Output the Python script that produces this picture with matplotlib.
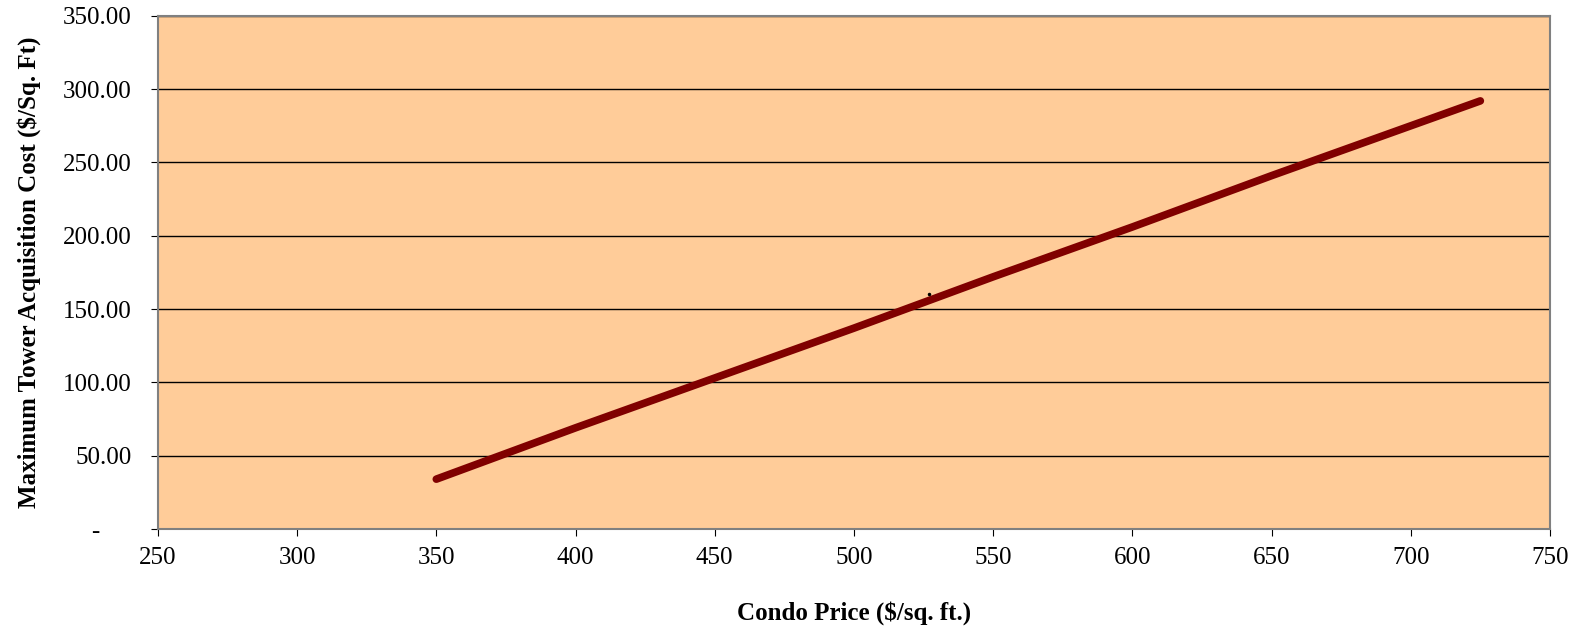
import matplotlib.pyplot as plt
from matplotlib.ticker import FuncFormatter

# Datos
precio_condo = [350, 400, 450, 500, 550, 600, 650, 700, 725]
costo_max = [34, 69, 103, 137, 172, 206, 241, 275, 292]
punto_suelto = (527, 160)

x_ticks = [250, 300, 350, 400, 450, 500, 550, 600, 650, 700, 750]
y_ticks = [0, 50, 100, 150, 200, 250, 300, 350]

plt.rcParams['font.family'] = ['Liberation Serif', 'DejaVu Serif']

fig = plt.figure(figsize=(15.79, 6.34), dpi=100)
ax = fig.add_axes([0.1, 0.1656, 0.8816, 0.8094])
ax.set_facecolor('#FFCC99')

ax.plot(precio_condo, costo_max, color='#800000', linewidth=5.5,
        solid_capstyle='round', zorder=3)
ax.plot([punto_suelto[0]], [punto_suelto[1]], marker='o', markersize=1.5,
        color='black', linestyle='none', zorder=3)

ax.set_xlim(250, 750)
ax.set_ylim(0, 350)
ax.set_xticks(x_ticks)
ax.set_yticks(y_ticks)
ax.yaxis.set_major_formatter(FuncFormatter(
    lambda v, p: '-' + '\u00a0' * 5 if v == 0 else f'{v:.2f}'))

ax.grid(axis='y', color='black', linewidth=1)
ax.set_axisbelow(True)
for lado in ['left', 'bottom', 'top', 'right']:
    ax.spines[lado].set_color('#808080')
    ax.spines[lado].set_linewidth(1.5)
ax.tick_params(axis='both', direction='out', length=5, color='black',
               labelsize=18)
ax.tick_params(axis='x', pad=8)
ax.tick_params(axis='y', pad=14)

ax.set_xlabel('Condo Price ($/sq. ft.)', fontsize=18, fontweight='bold', labelpad=23)
ax.set_ylabel('Maximum Tower Acquisition Cost ($/Sq. Ft)', fontsize=18,
              fontweight='bold', labelpad=16)

fig.savefig('out.png', dpi=100)
